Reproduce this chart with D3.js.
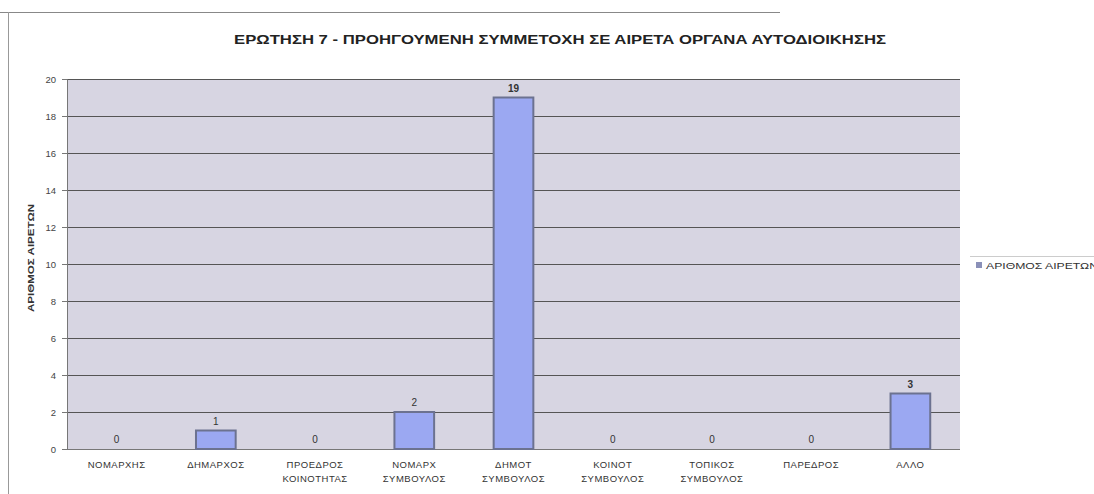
<!DOCTYPE html>
<html><head><meta charset="utf-8">
<script src="https://cdn.jsdelivr.net/npm/d3@7"></script>
<style>body{margin:0;background:#fff;font-family:"Liberation Sans",Arial,sans-serif}</style>
</head><body>
<svg id="c" width="1094" height="494"></svg>
<script>
const categories = [["ΝΟΜΑΡΧΗΣ"],["ΔΗΜΑΡΧΟΣ"],["ΠΡΟΕΔΡΟΣ","ΚΟΙΝΟΤΗΤΑΣ"],["ΝΟΜΑΡΧ","ΣΥΜΒΟΥΛΟΣ"],["ΔΗΜΟΤ","ΣΥΜΒΟΥΛΟΣ"],["ΚΟΙΝΟΤ","ΣΥΜΒΟΥΛΟΣ"],["ΤΟΠΙΚΟΣ","ΣΥΜΒΟΥΛΟΣ"],["ΠΑΡΕΔΡΟΣ"],["ΑΛΛΟ"]];
const values = [0,1,0,2,19,0,0,0,3];
const yTicks = [0,2,4,6,8,10,12,14,16,18,20];
const seriesName = "ΑΡΙΘΜΟΣ ΑΙΡΕΤΩΝ";
const title = "ΕΡΩΤΗΣΗ 7 - ΠΡΟΗΓΟΥΜΕΝΗ ΣΥΜΜΕΤΟΧΗ ΣΕ ΑΙΡΕΤΑ ΟΡΓΑΝΑ ΑΥΤΟΔΙΟΙΚΗΣΗΣ";
const yTitle = "ΑΡΙΘΜΟΣ ΑΙΡΕΤΩΝ";

const svg = d3.select("#c");
const L=67,R=960,T=79,B=449;
// chart frame
svg.append("line").attr("x1",0).attr("x2",780).attr("y1",12.5).attr("y2",12.5).attr("stroke","#888").attr("stroke-width",1.2);
svg.append("line").attr("x1",8.5).attr("x2",8.5).attr("y1",12).attr("y2",494).attr("stroke","#999").attr("stroke-width",1);

svg.append("text").attr("x",234).attr("y",44)
  .attr("font-size",12.5).attr("font-weight","bold").attr("fill","#222")
  .attr("textLength",652).attr("lengthAdjust","spacingAndGlyphs").text(title);

const x = d3.scaleBand().domain(d3.range(categories.length)).range([L,R]).paddingInner(0.6).paddingOuter(0.3);
const y = d3.scaleLinear().domain([0,20]).range([B,T]);

svg.append("rect").attr("x",L).attr("y",T).attr("width",R-L).attr("height",B-T).attr("fill","#d7d5e2");

// gridlines
svg.append("g").selectAll("line").data(yTicks.filter(d=>d>0)).join("line")
  .attr("x1",L).attr("x2",R).attr("y1",d=>y(d)+0.5).attr("y2",d=>y(d)+0.5)
  .attr("stroke","#555").attr("stroke-width",1);

// y axis
const ya = svg.append("g").attr("transform",`translate(${L},0)`)
  .call(d3.axisLeft(y).tickValues(yTicks).tickSize(5).tickPadding(6));
ya.select(".domain").attr("stroke","#777");
ya.selectAll(".tick line").attr("stroke","#777");
ya.selectAll("text").attr("font-size",9.5).attr("fill","#444").attr("font-family","Liberation Sans, Arial");

// x axis line
svg.append("line").attr("x1",L-5).attr("x2",R).attr("y1",B+0.5).attr("y2",B+0.5).attr("stroke","#777");

// bars
svg.append("g").selectAll("rect").data(values).join("rect")
  .attr("x",(d,i)=>x(i)).attr("width",x.bandwidth())
  .attr("y",d=>y(d)).attr("height",d=>B-y(d))
  .attr("fill","#9ba8f2").attr("stroke","#6c7290").attr("stroke-width",2);

// value labels
svg.append("g").selectAll("text").data(values).join("text")
  .attr("x",(d,i)=>x(i)+x.bandwidth()/2).attr("y",d=>y(d)-6)
  .attr("text-anchor","middle").attr("font-size",10).attr("fill","#333")
  .attr("font-weight",d=>d>=3?"bold":"normal").text(d=>d);

// x labels
const xl = svg.append("g").selectAll("text").data(categories).join("text")
  .attr("x",(d,i)=>x(i)+x.bandwidth()/2).attr("y",468)
  .attr("text-anchor","middle").attr("font-size",9.5).attr("letter-spacing","0.5px").attr("fill","#333");
xl.selectAll("tspan").data(d=>d).join("tspan")
  .attr("x",function(){return this.parentNode.getAttribute("x");})
  .attr("dy",(d,i)=>i?14:0).text(d=>d);

// y title
svg.append("text").attr("transform","translate(34,258) rotate(-90)")
  .attr("text-anchor","middle").attr("font-size",9.5).attr("font-weight","bold").attr("fill","#333")
  .attr("textLength",108).attr("lengthAdjust","spacingAndGlyphs").text(yTitle);

// legend
const lg = svg.append("g");
lg.append("line").attr("x1",970).attr("x2",1094).attr("y1",256.5).attr("y2",256.5).attr("stroke","#ccc");
lg.append("rect").attr("x",976).attr("y",262).attr("width",6).attr("height",6).attr("fill","#8a90b8");
lg.append("text").attr("x",986).attr("y",269).attr("font-size",9.5).attr("fill","#333")
  .attr("textLength",112).attr("lengthAdjust","spacingAndGlyphs").text(seriesName);
</script>
</body></html>
